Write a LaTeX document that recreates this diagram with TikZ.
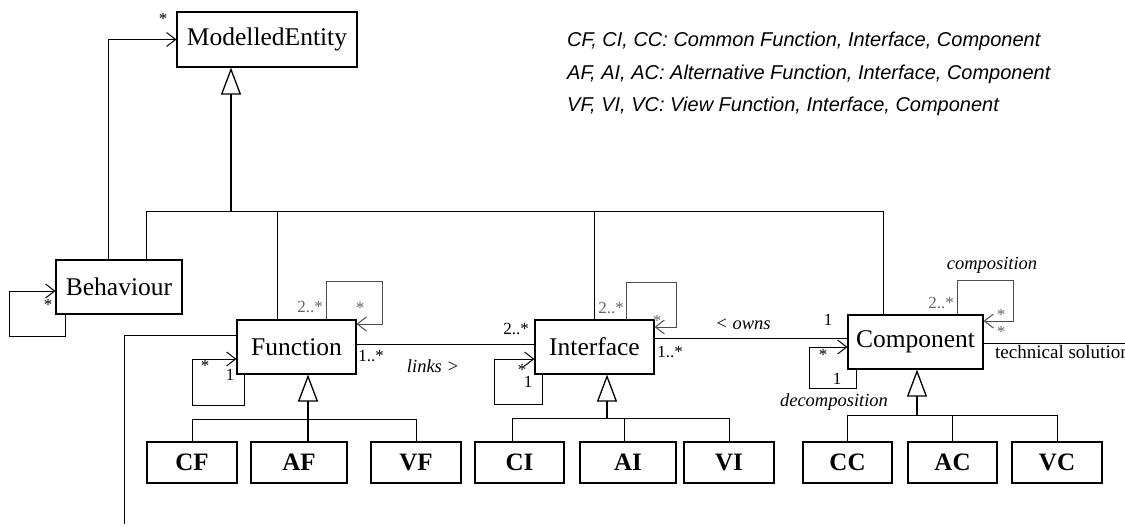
\documentclass[tikz,border=0pt]{standalone}
\usepackage{fontspec}
\setmainfont{Liberation Serif}
\newfontfamily\legendfont{Liberation Sans}
\usetikzlibrary{arrows.meta}
\begin{document}
\begin{tikzpicture}[x=1pt,y=-1pt,
  cls/.style={draw, line width=1.2pt, inner sep=0pt, font=\fontsize{25.5}{25.5}\selectfont},
  sub/.style={draw, line width=1.2pt, inner sep=0pt, minimum height=41pt, font=\bfseries\fontsize{25}{25}\selectfont},
  assoc/.style={line width=1pt, -{Straight Barb[length=9pt,width=14pt,line width=1pt]}},
  loopc/.style={draw=black!70},
  line/.style={line width=1pt},
  gen/.style={line width=1.8pt, -{Triangle[open,length=27pt,width=20pt,line width=1.3pt]}},
  mult/.style={font=\fontsize{17}{17}\selectfont, inner sep=0pt},
  gmult/.style={mult, text=black!60},
  role/.style={font=\itshape\fontsize{18.5}{18.5}\selectfont, inner sep=0pt},
  legend/.style={font=\legendfont\itshape\fontsize{20}{20}\selectfont, anchor=west, inner sep=0pt}
]
\useasboundingbox (0,0) rectangle (1125,527);

% legend
\node[legend] (lg1) at (567,41) {CF, CI, CC: Common Function, Interface, Component};
\node[legend] (lg2) at (567,74) {AF, AI, AC: Alternative Function, Interface, Component};
\node[legend] (lg3) at (567,106) {VF, VI, VC: View Function, Interface, Component};

% main classes
\node[cls, minimum width=180pt, minimum height=55pt] (me) at (267,39.5) {ModelledEntity};
\node[cls, minimum width=126pt, minimum height=54pt] (beh) at (119,287) {Behaviour};
\node[cls, minimum width=119pt, minimum height=54pt] (fn) at (296.5,347) {Function};
\node[cls, minimum width=119pt, minimum height=54pt] (if) at (594.5,347) {Interface};
\node[cls, minimum width=135pt, minimum height=54pt] (cp) at (915.5,342) {Component};

% sub classes
\node[sub, minimum width=90pt] (cf) at (192,462.5) {CF};
\node[sub, minimum width=96pt] (af) at (299,462.5) {AF};
\node[sub, minimum width=90pt] (vf) at (416,462.5) {VF};
\node[sub, minimum width=89pt] (ci) at (519.5,462.5) {CI};
\node[sub, minimum width=96pt] (ai) at (628,462.5) {AI};
\node[sub, minimum width=90pt] (vi) at (729,462.5) {VI};
\node[sub, minimum width=89pt] (cc) at (847.5,462.5) {CC};
\node[sub, minimum width=89pt] (ac) at (952.5,462.5) {AC};
\node[sub, minimum width=90pt] (vc) at (1057,462.5) {VC};

\coordinate (fnend) at (124,524);
\coordinate (tsend) at (1125,343);

% generalisation to ModelledEntity
\draw[gen] (231,211) -- (me.south -| 231,0);
\draw[line] (beh.north -| 146,0) -- (146,211) -- (883,211) -- (cp.north -| 883,0);
\draw[line] (277,211) -- (fn.north -| 277,0);
\draw[line] (594,211) -- (if.north -| 594,0);

% Behaviour
\draw[assoc] (beh.north -| 108,0) |- (me.west);
\node[mult] (m0) at (163,19) {*};
\draw[assoc] (beh.south -| 65,0) |- (9,336) |- (beh.west |- 0,291);
\node[mult] (m1) at (48,305) {*};

% Function
\draw[assoc, loopc] (fn.north -| 326,0) |- (382,281) |- (fn.east |- 0,324);
\node[gmult] (m2) at (310,307) {2..*};
\node[gmult] (m3) at (360,308) {*};
\draw[assoc] (fn.south -| 244,0) |- (192,405) |- (fn.west |- 0,359);
\node[mult] (m4) at (205,366) {*};
\node[mult] (m5) at (230,375) {1};
\draw[line] (fn.east |- 0,344) -- (if.west |- 0,344);
\node[mult] (m6) at (371,356) {1..*};
\node[mult] (m7) at (516,329) {2..*};
\node[role] (links) at (433,366) {links >};
\draw[line] (fn.west |- 0,335) -| (fnend);

% Interface
\draw[assoc, loopc] (if.north -| 626,0) |- (676,282) |- (if.east |- 0,327);
\node[gmult] (m8) at (611,308) {2..*};
\node[gmult] (m9) at (657,321) {*};
\draw[assoc] (if.south -| 542,0) |- (494,404) |- (if.west |- 0,359);
\node[mult] (m10) at (522,370) {*};
\node[mult] (m11) at (528,382) {1};
\node[mult] (m12) at (670,352) {1..*};
\draw[line] (if.east |- 0,338) -- (cp.west |- 0,338);
\node[role] (owns) at (743,324) {< owns};
\node[mult] (m13) at (828,320) {1};

% Component
\draw[assoc, loopc] (cp.north -| 957,0) |- (1013,280) |- (cp.east |- 0,321);
\node[gmult] (m14) at (941,303) {2..*};
\node[gmult] (m15) at (1001,315) {*};
\node[gmult] (m16) at (1001,332) {*};
\node[role] (compo) at (992,265) {composition};
\draw[assoc] (cp.south -| 856,0) |- (809,388) |- (cp.west |- 0,347);
\node[mult] (m17) at (823,355) {*};
\node[mult] (m18) at (837,379) {1};
\node[role] (decompo) at (834,402) {decomposition};
\draw[line] (cp.east |- 0,343) -- (tsend);
\node[anchor=west, inner sep=0pt, font=\fontsize{19}{19}\selectfont] (tech) at (995,352) {technical solution};

% generalisations of sub classes
\draw[gen] (af.north -| 308,0) -- (fn.south -| 308,0);
\draw[line] (cf.north) -- (cf.north |- 0,419) -- (vf.north |- 0,419) -- (vf.north);
\draw[gen] (607,418) -- (if.south -| 607,0);
\draw[line] (ci.north -| 512,0) -- (512,418) -- (729,418) -- (vi.north);
\draw[line] (624,418) -- (ai.north -| 624,0);
\draw[gen] (917,415) -- (cp.south -| 917,0);
\draw[line] (cc.north) -- (cc.north |- 0,415) -- (vc.north |- 0,415) -- (vc.north);
\draw[line] (ac.north |- 0,415) -- (ac.north);
\end{tikzpicture}
\end{document}
